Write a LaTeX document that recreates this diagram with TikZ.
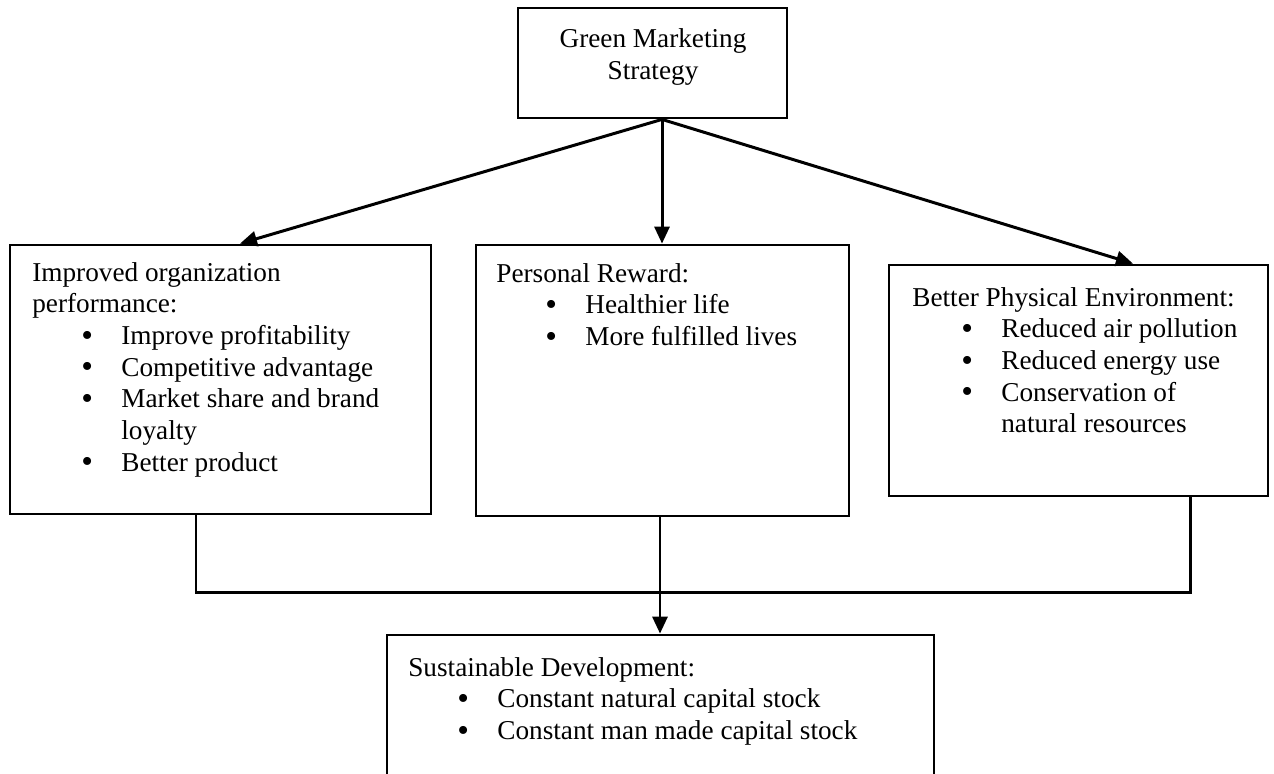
\documentclass[tikz,border=0pt]{standalone}
\usepackage{fontspec}
\setmainfont{Liberation Serif}
\usetikzlibrary{arrows.meta,calc}

\newcommand{\bul}{\hspace*{0.98cm}\makebox[0.8cm][l]{\smash{\raisebox{-0.12ex}{\fontsize{19}{18}\selectfont\textbullet}}}}
\newcommand{\cnt}{\hspace*{1.78cm}}

\tikzset{
  box/.style={draw, line width=1.6pt, inner sep=0pt},
  txt/.style={anchor=north west, align=left, inner sep=0pt, font=\fontsize{15.5}{18}\selectfont},
  link/.style={line width=1.7pt},
  arr/.style={link, -{Triangle[length=0.34cm,width=0.3cm]}}
}

\begin{document}
\begin{tikzpicture}
    \useasboundingbox (0,0) rectangle (25.48,-15.46);
    \clip (0,0) rectangle (25.48,-15.46);

    % top box
    \node[box, minimum width=5.38cm, minimum height=2.2cm] (gms) at (13.05,-1.26) {};
    \node[txt, anchor=center, align=center] (gmstxt) at (13.06,-1.14) {Green Marketing\\Strategy};

    % three boxes in the middle row
    \node[box, minimum width=8.42cm, minimum height=5.38cm] (orgbox) at (4.41,-7.59) {};
    \node[box, minimum width=7.46cm, minimum height=5.42cm] (rewbox) at (13.25,-7.61) {};
    \node[box, minimum width=7.58cm, minimum height=4.62cm] (envbox) at (21.57,-7.61) {};

    \node[txt] (orgtxt) at (0.64,-5.24) {Improved organization\\performance:\\
      \bul Improve profitability\\\bul Competitive advantage\\
      \bul Market share and brand\\\cnt loyalty\\\bul Better product};
    \node[txt] (rewtxt) at (9.92,-5.26) {Personal Reward:\\
      \bul Healthier life\\\bul More fulfilled lives};
    \node[txt] (envtxt) at (18.24,-5.74) {Better Physical Environment:\\
      \bul Reduced air pollution\\\bul Reduced energy use\\
      \bul Conservation of\\\cnt natural resources};

    % bottom box
    \node[box, minimum width=10.94cm, minimum height=3.4cm] (susbox) at (13.21,-14.4) {};
    \node[txt] (sustxt) at (8.16,-13.14) {Sustainable Development:\\
      \bul Constant natural capital stock\\\bul Constant man made capital stock};

    % arrows from the top
    \coordinate (fork) at ($(gms.south)+(0.19,0)$);
    \draw[arr] (fork) -- ($(orgbox.north)+(0.39,0)$);
    \draw[arr] (fork) -- (fork |- rewbox.north);
    \draw[arr] (fork) -- ($(envbox.north)+(1.09,0)$);

    % joining line and arrow to the bottom
    \draw[link] ($(orgbox.south)+(-0.49,0)$) -- ++(0,-1.55) -| ($(envbox.south)+(2.23,0)$);
    \draw[arr] ($(rewbox.south)+(-0.05,0)$) coordinate (drop) -- (drop |- susbox.north);
\end{tikzpicture}
\end{document}
